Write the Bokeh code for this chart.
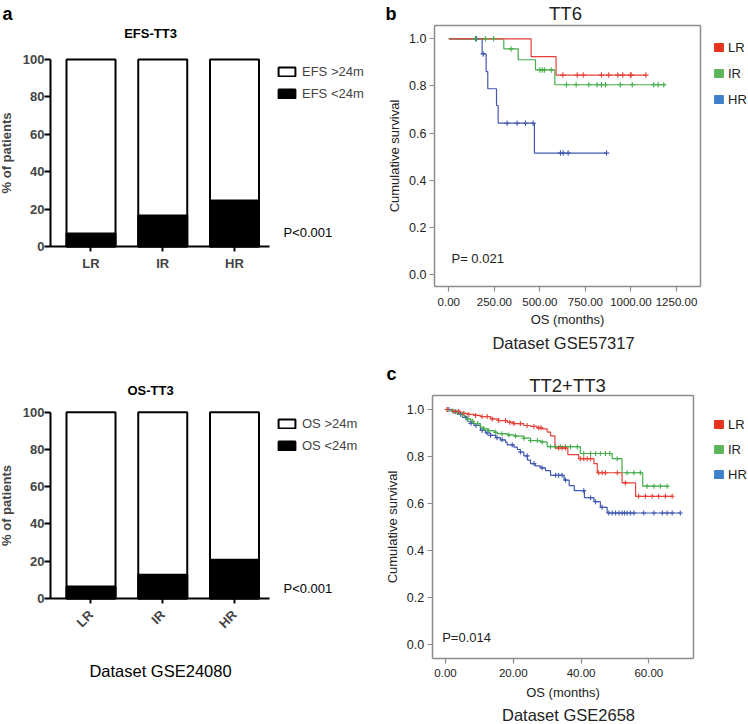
import numpy as np
from math import pi
from bokeh.plotting import figure
from bokeh.models import (Label, Legend, LegendItem, FixedTicker, Range1d,
                          PrintfTickFormatter, LinearAxis)
from bokeh.layouts import row, column
from bokeh.embed import file_html
from bokeh.resources import INLINE

FONT = "Liberation Sans"

# ---------------- data ----------------
risk_groups = ["LR", "IR", "HR"]
group_pos = [1, 2, 3]
all_patients = [100, 100, 100]
efs_below_24m = [7.0, 16.6, 24.6]
os_below_24m = [6.5, 12.7, 20.8]

# Panel b: TT6 (GSE57317)
b_lr_times = [0, 452, 589]
b_lr_surv = [1.0, 0.924, 0.846]
b_lr_last = 1085
b_lr_censored = [626, 705, 738, 838, 878, 928, 955, 997, 1001, 1082]

b_ir_times = [0, 302, 381, 476, 582]
b_ir_surv = [1.0, 0.957, 0.911, 0.868, 0.805]
b_ir_last = 1190
b_ir_censored = [146, 201, 246, 342, 500, 513, 525, 562, 646, 699, 769, 814, 838, 860,
                 942, 1007, 1125, 1149, 1180]

b_hr_times = [0, 183, 205, 214, 262, 271, 470]
b_hr_surv = [1.0, 0.936, 0.861, 0.788, 0.717, 0.642, 0.515]
b_hr_last = 866
b_hr_censored = [152, 189, 320, 375, 421, 463, 613, 628, 655, 866]

# Panel c: TT2+TT3 (GSE2658)
c_lr_times = [0, 2.0, 4.4, 6.5, 8.4, 10.3, 13.3, 15.5, 18.2, 20.2, 23.1, 25.1, 27.0, 28.5,
              30.0, 31.0, 32.3, 36.1, 39.3, 43.8, 44.8, 52.1, 56.1]
c_lr_surv = [1.0, 0.992, 0.984, 0.979, 0.975, 0.970, 0.960, 0.953, 0.946, 0.940, 0.932, 0.928,
             0.922, 0.918, 0.904, 0.888, 0.836, 0.808, 0.791, 0.770, 0.731, 0.688, 0.631]
c_lr_last = 67.0
c_lr_censored = [0.5, 2.5, 3.9, 5.4, 6.9, 8.9, 10.8, 12.3, 13.8, 15.7, 17.7, 19.0, 20.2, 22.1,
                 24.1, 26.1, 27.5, 28.2, 33.4, 34.4, 35.4, 39.8, 40.8, 41.8, 42.8, 45.2, 46.2,
                 47.2, 50.7, 53.1, 57.0, 59.0, 61.0, 62.9, 64.9, 66.9]

c_ir_times = [0, 1.5, 3.0, 4.4, 5.5, 6.4, 7.5, 8.4, 10.3, 11.3, 12.5, 14.3, 15.2, 18.2, 20.2,
              23.1, 25.1, 28.0, 30.0, 39.8, 49.2, 52.1, 58.2]
c_ir_surv = [1.0, 0.995, 0.988, 0.980, 0.970, 0.960, 0.950, 0.940, 0.925, 0.918, 0.910, 0.903,
             0.897, 0.892, 0.887, 0.878, 0.868, 0.862, 0.842, 0.813, 0.791, 0.731, 0.674]
c_ir_last = 65.9
c_ir_censored = [0.5, 2.0, 3.5, 5.0, 6.5, 8.0, 9.5, 11.3, 12.8, 14.8, 16.7, 18.7, 20.7, 23.1,
                 25.1, 27.1, 28.5, 31.0, 32.5, 33.9, 35.4, 36.9, 38.9, 40.8, 42.8, 44.3, 45.7,
                 47.2, 48.5, 50.7, 53.6, 55.6, 57.5, 59.5, 61.5, 63.4, 65.4]

c_hr_times = [0, 2.0, 3.5, 5.0, 6.4, 7.5, 8.4, 10.3, 11.8, 13.3, 14.8, 16.2, 17.7, 18.2, 20.2,
              21.2, 22.1, 23.1, 24.2, 25.1, 26.5, 28.0, 29.5, 31.0, 35.0, 36.5, 38.0, 41.0,
              43.8, 45.7, 47.7]
c_hr_surv = [1.0, 0.990, 0.980, 0.966, 0.950, 0.941, 0.932, 0.911, 0.900, 0.890, 0.880, 0.871,
             0.861, 0.850, 0.840, 0.830, 0.819, 0.803, 0.785, 0.770, 0.760, 0.752, 0.740, 0.720,
             0.700, 0.676, 0.655, 0.625, 0.608, 0.584, 0.560]
c_hr_last = 69.3
c_hr_censored = [1.0, 3.0, 4.5, 6.0, 7.5, 9.0, 10.8, 12.3, 13.3, 15.2, 16.7, 19.7, 22.1, 24.1,
                 26.1, 28.5, 32.5, 33.4, 34.4, 35.4, 40.8, 42.8, 44.3, 46.2, 48.2, 49.2, 50.2,
                 51.2, 52.1, 52.8, 53.6, 54.6, 55.6, 58.5, 61.5, 64.0, 65.4, 66.9, 69.3]

b_xticks = [0, 250, 500, 750, 1000, 1250]
c_xticks = [0, 20, 40, 60]
surv_ticks = [0.0, 0.2, 0.4, 0.6, 0.8, 1.0]
pct_ticks = [0, 20, 40, 60, 80, 100]

RED, GREEN, BLUE = "#e6423a", "#45ad4b", "#4358b3"
LEG_RED, LEG_GREEN, LEG_BLUE = "#e5321f", "#5db65a", "#3f7fcb"
BOX = "#8c8c8c"
INK = "#222222"


def px(v):
    return f"{v}px"


def make_panel(origin, size, frame, xr, yr):
    """Figure whose frame fills the whole figure; 'frame' is the plot box (page px)."""
    ox, oy = origin
    w, h = size
    L, T, R, B = frame
    ux = (R - L) / (xr[1] - xr[0])
    uy = (B - T) / (yr[1] - yr[0])
    fx = (xr[0] - (L - ox) / ux, xr[0] + (ox + w - L) / ux)
    fy = (yr[0] - (oy + h - B) / uy, yr[1] + (T - oy) / uy)
    p = figure(width=w, height=h, x_range=Range1d(*fx), y_range=Range1d(*fy),
               min_border_left=0, min_border_right=0, min_border_top=0, min_border_bottom=0,
               output_backend="svg", toolbar_location=None, title=None)
    p.outline_line_color = None
    p.xgrid.visible = False
    p.ygrid.visible = False
    p.background_fill_color = "white"
    p.border_fill_color = "white"

    def to_data(x, y):
        return (fx[0] + (x - ox) / ux, fy[1] - (y - oy) / uy)

    def leg_loc(x, y_bottom):
        return (float(x - ox), float(oy + h - y_bottom))

    return p, to_data, leg_loc


def add_text(p, to_data, x, y, text, size, bold=False, align="left", color="black",
             baseline="middle"):
    dx, dy = to_data(x, y)
    p.add_layout(Label(x=dx, y=dy, text=text, text_font=FONT, text_font_size=px(size),
                       text_font_style="bold" if bold else "normal", text_align=align,
                       text_baseline=baseline, text_color=color))


# ---------------- panel a (stacked bar charts) ----------------
def bar_panel(origin, size, frame, below_vals, title, title_xy, lab_hi, lab_lo, legend_xy,
              p_xy, rotate, letter=None, caption=None):
    xr = (0.4355, 3.488)
    yr = (0, 100)
    p, to_data, leg_loc = make_panel(origin, size, frame, xr, yr)
    r_hi = p.vbar(x=group_pos, top=all_patients, bottom=0, width=0.683, fill_color="white",
                  line_color="black", line_width=2)
    r_lo = p.vbar(x=group_pos, top=below_vals, bottom=0, width=0.683, fill_color="black",
                  line_color="black", line_width=2)
    ya = p.yaxis[0]
    ya.fixed_location = xr[0]
    ya.bounds = (0, 100)
    ya.ticker = FixedTicker(ticks=pct_ticks)
    ya.axis_line_width = 2
    ya.major_tick_line_width = 2
    ya.major_tick_out = 6
    ya.major_tick_in = 0
    ya.minor_tick_line_color = None
    ya.major_label_standoff = 0
    ya.major_label_text_font = FONT
    ya.major_label_text_font_style = "bold"
    ya.major_label_text_font_size = px(13)
    ya.axis_label = "% of patients"
    ya.axis_label_text_font = FONT
    ya.axis_label_text_font_style = "bold"
    ya.axis_label_text_font_size = px(13)
    ya.axis_label_standoff = 6
    xa = p.xaxis[0]
    xa.fixed_location = 0
    xa.bounds = xr
    xa.ticker = FixedTicker(ticks=group_pos)
    xa.major_label_overrides = {g: n for g, n in zip(group_pos, risk_groups)}
    xa.axis_line_width = 2
    xa.major_tick_line_width = 2
    xa.major_tick_out = 5
    xa.major_tick_in = 0
    xa.minor_tick_line_color = None
    xa.major_label_text_font = FONT
    xa.major_label_text_font_style = "bold"
    xa.major_label_text_font_size = px(13)
    if rotate:
        xa.major_label_orientation = pi / 4
        xa.major_label_standoff = 9
    else:
        xa.major_label_standoff = 4
    leg = Legend(items=[LegendItem(label=lab_hi, renderers=[r_hi]),
                        LegendItem(label=lab_lo, renderers=[r_lo])],
                 location=leg_loc(*legend_xy), glyph_width=21,
                 glyph_height=11, label_height=15, spacing=7, padding=0, margin=0,
                 label_standoff=5, label_text_font=FONT, label_text_font_size=px(13),
                 background_fill_alpha=0, border_line_alpha=0)
    p.add_layout(leg, "center")
    add_text(p, to_data, title_xy[0], title_xy[1], title, 13, bold=True, align="center")
    add_text(p, to_data, p_xy[0], p_xy[1], "P<0.001", 13)
    if letter:
        add_text(p, to_data, 2, 13.5, letter, 18, bold=True, baseline="alphabetic")
    if caption:
        add_text(p, to_data, 160, 670, caption, 16.5, align="center")
    return p


p_a1 = bar_panel((0, 0), (370, 355), (50, 59, 269, 246), efs_below_24m, "EFS-TT3", (150, 33),
                 "EFS >24m", "EFS <24m", (276, 101), (283, 232), False, letter="a")
p_a2 = bar_panel((0, 355), (370, 369), (50, 411.7, 269, 598), os_below_24m, "OS-TT3",
                 (150, 390), "OS >24m", "OS <24m", (276, 453), (283, 588), True,
                 caption="Dataset GSE24080")


# ---------------- panels b and c (Kaplan-Meier curves) ----------------
def km_curve(p, times, surv, last, color):
    xs = list(times) + [last]
    ys = list(surv) + [surv[-1]]
    p.step(xs, ys, mode="after", line_color=color, line_width=1.2)


def km_marks(p, times, surv, cens, color, msize):
    idx = np.searchsorted(np.array(times, dtype=float), np.array(cens, dtype=float),
                          side="right") - 1
    cy = np.array(surv)[idx]
    p.scatter(list(cens), list(cy), marker="cross", size=msize, line_color=color,
              line_width=1.1)


def style_axis(ax):
    ax.axis_line_color = BOX
    ax.axis_line_width = 1.5
    ax.major_tick_line_color = BOX
    ax.major_tick_line_width = 1.2
    ax.major_tick_out = 5
    ax.major_tick_in = 0
    ax.minor_tick_line_color = None
    ax.major_label_text_font = FONT
    ax.major_label_text_color = INK
    ax.axis_label_text_font = FONT
    ax.axis_label_text_font_style = "normal"
    ax.axis_label_text_color = INK
    ax.axis_label_text_font_size = px(13)


def km_panel(origin, size, frame, xr, yr, xticks, curves, letter, letter_xy, title,
             title_xy, pval, p_xy, caption, cap_xy, leg_xy, leg_spacing, msize,
             x_lab_standoff, x_axis_standoff):
    p, to_data, leg_loc = make_panel(origin, size, frame, xr, yr)
    for (t, s, last, cens, col) in [curves[2], curves[1], curves[0]]:
        km_curve(p, t, s, last, col)
    for (t, s, last, cens, col) in [curves[2], curves[1], curves[0]]:
        km_marks(p, t, s, cens, col, msize)

    ya = p.yaxis[0]
    style_axis(ya)
    ya.fixed_location = xr[0]
    ya.bounds = yr
    ya.ticker = FixedTicker(ticks=surv_ticks)
    ya.formatter = PrintfTickFormatter(format="%.1f")
    ya.major_label_text_font_size = px(12.5)
    ya.major_label_standoff = 3
    ya.axis_label = "Cumulative survival"
    ya.axis_label_standoff = 4

    xa = p.xaxis[0]
    style_axis(xa)
    xa.fixed_location = yr[0]
    xa.bounds = xr
    xa.ticker = FixedTicker(ticks=xticks)
    xa.formatter = PrintfTickFormatter(format="%.2f")
    xa.major_label_text_font_size = px(11.5)
    xa.major_label_standoff = x_lab_standoff
    xa.axis_label = "OS (months)"
    xa.axis_label_standoff = x_axis_standoff

    # closing sides of the plot box
    top = LinearAxis(fixed_location=yr[1], bounds=xr, ticker=FixedTicker(ticks=[]))
    right = LinearAxis(fixed_location=xr[1], bounds=yr, ticker=FixedTicker(ticks=[]))
    for ax in (top, right):
        style_axis(ax)
        ax.major_tick_line_color = None
    p.add_layout(top, "above")
    p.add_layout(right, "right")

    items = []
    for name, col in zip(risk_groups, [LEG_RED, LEG_GREEN, LEG_BLUE]):
        # swatch renderer for the legend only (its single row is NaN, so it draws nothing)
        r = p.quad(left=[np.nan], right=[np.nan], top=[np.nan], bottom=[np.nan],
                   fill_color=col, line_color=col)
        items.append(LegendItem(label=name, renderers=[r]))
    leg = Legend(items=items, location=leg_loc(*leg_xy), glyph_width=11,
                 glyph_height=10, label_height=15, spacing=leg_spacing, padding=0, margin=0,
                 label_standoff=4, label_text_font=FONT, label_text_font_size=px(13),
                 label_text_color=INK, background_fill_alpha=0, border_line_alpha=0)
    p.add_layout(leg, "center")
    add_text(p, to_data, letter_xy[0], letter_xy[1], letter, 18, bold=True,
             baseline="alphabetic")
    add_text(p, to_data, title_xy[0], title_xy[1], title, 18.5, align="center", color=INK)
    add_text(p, to_data, p_xy[0], p_xy[1], pval, 13, color=INK)
    add_text(p, to_data, cap_xy[0], cap_xy[1], caption, 16.5, align="center", color=INK)
    return p


curves_b = [(b_lr_times, b_lr_surv, b_lr_last, b_lr_censored, RED),
            (b_ir_times, b_ir_surv, b_ir_last, b_ir_censored, GREEN),
            (b_hr_times, b_hr_surv, b_hr_last, b_hr_censored, BLUE)]
p_b = km_panel((370, 0), (378, 355), (434, 25, 700, 286), (-78.5, 1381.8), (-0.0509, 1.0564),
               b_xticks, curves_b, "b", (385, 13.5), "TT6", (565, 13), "P= 0.021", (451, 258),
               "Dataset GSE57317", (563, 342), (713, 106.5), 11, 5.5, 6, 3)

curves_c = [(c_lr_times, c_lr_surv, c_lr_last, c_lr_censored, RED),
            (c_ir_times, c_ir_surv, c_ir_last, c_ir_censored, GREEN),
            (c_hr_times, c_hr_surv, c_hr_last, c_hr_censored, BLUE)]
p_c = km_panel((370, 355), (378, 369), (431.7, 395, 692.7, 657.5), (-3.925, 73.10),
               (-0.0565, 1.0595), c_xticks, curves_c, "c", (386, 373), "TT2+TT3", (567, 385),
               "P=0.014", (441.7, 637), "Dataset GSE2658", (568, 714), (713, 481.5), 10, 5,
               6, 4)

layout = column(row(p_a1, p_b, spacing=0), row(p_a2, p_c, spacing=0), spacing=0)
open("out.html", "w").write(file_html(layout, INLINE, "Figure"))
